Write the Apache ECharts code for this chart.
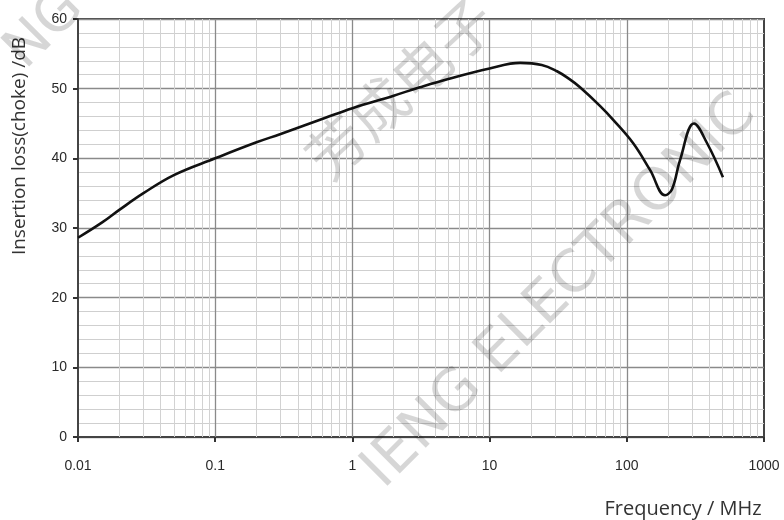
<!DOCTYPE html>
<html>
<head>
<meta charset="utf-8">
<script src="https://cdn.jsdelivr.net/npm/echarts@6/dist/echarts.min.js"></script>
<style>html,body{margin:0;padding:0;background:#fff}#c{width:784px;height:520px}</style>
</head>
<body>
<div id="c"></div>
<script>
// Frequency (MHz) and insertion loss (dB)
var freq = [0.01, 0.015, 0.02, 0.03, 0.05, 0.1, 0.2, 0.3, 0.63, 1, 2, 3.1, 5, 10, 16.7, 24, 31, 38, 45.6, 64, 79, 111, 148, 190, 214, 244, 309, 384, 502];
var loss = [28.6, 30.8, 32.6, 35.0, 37.6, 40.0, 42.3, 43.5, 45.8, 47.2, 49.0, 50.2, 51.4, 52.9, 53.7, 53.4, 52.5, 51.4, 50.2, 47.5, 45.6, 42.2, 38.3, 34.7, 35.6, 39.7, 45.0, 42.2, 37.3];
var xTickLabels = ['0.01', '0.1', '1', '10', '100', '1000'];
var decades = [0.01, 0.1, 1, 10, 100, 1000];
var minorMultipliers = [2, 3, 4, 5, 6, 7, 8, 9];

var chart = echarts.init(document.getElementById('c'), null, {renderer: 'canvas'});

var curve = freq.map(function (f, i) { return [f, loss[i]]; });

var gridLines = [];
decades.slice(0, 5).forEach(function (d) {
  minorMultipliers.forEach(function (m) {
    gridLines.push({xAxis: +(d * m).toPrecision(3), lineStyle: {color: '#d2d2d2', width: 1, type: 'solid'}});
  });
});
decades.slice(1, 5).forEach(function (d) {
  gridLines.push({xAxis: d, lineStyle: {color: '#8a8a8a', width: 1.3, type: 'solid'}});
});

function labelFor(v) {
  for (var i = 0; i < decades.length; i++) {
    if (Math.abs(Math.log10(v) - Math.log10(decades[i])) < 1e-6) return xTickLabels[i];
  }
  return '';
}

var option = {
  animation: false,
  grid: {left: 78, right: 20, top: 19, bottom: 83, show: true, borderColor: '#444', borderWidth: 2},
  xAxis: {
    type: 'log', logBase: 10, min: 0.01, max: 1000,
    axisLine: {show: true, onZero: false, lineStyle: {color: '#444', width: 2}},
    axisTick: {show: true, length: 5, lineStyle: {color: '#333', width: 2}},
    axisLabel: {margin: 22, color: '#2a2a2a', fontSize: 14, fontFamily: 'Liberation Sans', formatter: labelFor},
    splitLine: {show: false}
  },
  yAxis: {
    type: 'value', min: 0, max: 60, interval: 10,
    axisLine: {show: true, lineStyle: {color: '#444', width: 2}},
    axisTick: {show: true, length: 5, lineStyle: {color: '#333', width: 2}},
    axisLabel: {margin: 11, color: '#2a2a2a', fontSize: 14, fontFamily: 'Liberation Sans'},
    splitLine: {show: true, lineStyle: {color: '#8a8a8a', width: 1.3}},
    minorTick: {show: false, splitNumber: 5},
    minorSplitLine: {show: true, lineStyle: {color: '#cfcfcf', width: 1}}
  },
  series: [
    {
      type: 'line', data: [], z: 1,
      markLine: {silent: true, symbol: 'none', label: {show: false}, z: 1, animation: false, data: gridLines}
    },
    {
      type: 'line', data: curve, z: 5, smooth: 0.4, showSymbol: false,
      lineStyle: {color: '#111', width: 2.6}
    }
  ],
  graphic: [
    {type: 'text', x: 20, y: 146, rotation: Math.PI / 2, z: 10,
      style: {text: 'Insertion loss(choke) /dB', fill: '#333', font: '19px "Open Sans"', align: 'center', verticalAlign: 'middle'}},
    {type: 'text', x: 683, y: 509, z: 10,
      style: {text: 'Frequency / MHz', fill: '#333', font: '20px "Open Sans"', align: 'center', verticalAlign: 'middle'}},
    {type: 'text', x: 400, y: 88, rotation: Math.PI / 4.2, z: 20,
      style: {text: '芳成电子', fill: 'rgba(0,0,0,0.16)', font: '58px "Noto Sans CJK SC"', align: 'center', verticalAlign: 'middle'}},
    {type: 'text', x: 560, y: 292, rotation: Math.PI / 4, z: 20,
      style: {text: 'IENG ELECTRONIC', fill: 'rgba(0,0,0,0.16)', font: '58px "DejaVu Sans"', align: 'center', verticalAlign: 'middle'}},
    {type: 'text', x: 45, y: 30, rotation: Math.PI / 4, z: 20,
      style: {text: 'NG', fill: 'rgba(0,0,0,0.16)', font: '56px "DejaVu Sans"', align: 'center', verticalAlign: 'middle'}}
  ]
};
chart.setOption(option);
</script>
</body>
</html>
